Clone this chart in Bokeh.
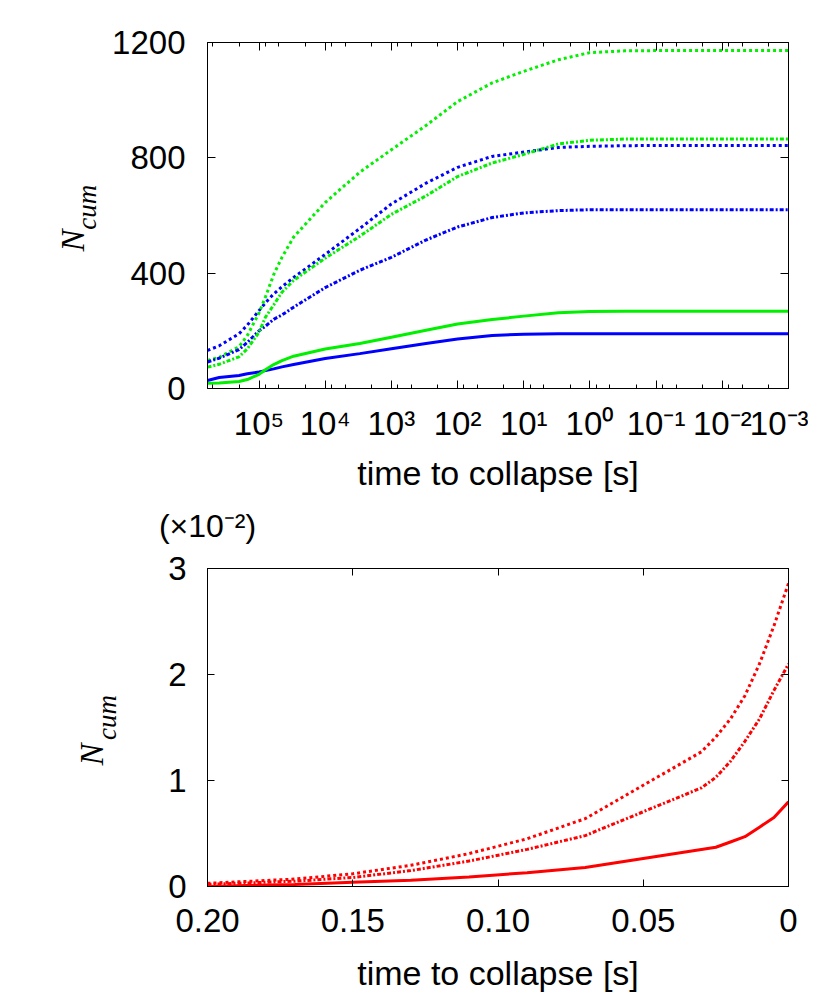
from bokeh.plotting import figure
from bokeh.models import Range1d, FixedTicker, LogAxis, LinearAxis, Label
from bokeh.layouts import column, row
from bokeh.embed import file_html
from bokeh.resources import INLINE

# ---------------- data: upper panel (time to collapse [s], N_cum) ----------------
t_top = [6e5, 4e5, 2e5, 1.5e5, 1e5, 8e4, 6e4, 4.5e4, 3e4, 1e4, 3e3, 1e3, 3e2, 1e2,
         3e1, 1e1, 3, 1, 0.3, 0.1, 1e-2, 1e-3]
blue_solid = [28, 38, 45, 51, 57, 62, 68, 75, 83, 104, 121, 138, 156, 172,
              184, 188, 190, 190, 190, 190, 190, 190]
green_solid = [18, 19, 24, 31, 49, 65, 83, 97, 112, 137, 156, 178, 202, 224,
               239, 251, 263, 267, 268, 268, 268, 268]
blue_dotted = [132, 148, 190, 220, 270, 297, 328, 353, 385, 465, 555, 640, 712, 767,
               805, 820, 836, 840, 842, 843, 843, 843]
green_dotted = [97, 108, 145, 184, 262, 317, 395, 455, 525, 645, 750, 828, 912, 995,
                1060, 1100, 1140, 1165, 1171, 1172, 1172, 1172]
blue_dashdot = [92, 105, 135, 160, 200, 216, 240, 255, 282, 350, 410, 455, 515, 560,
                593, 609, 617, 620, 620, 620, 620, 620]
green_dashdot = [74, 84, 110, 138, 195, 247, 290, 334, 375, 452, 528, 604, 668, 735,
                 782, 812, 848, 861, 865, 865, 865, 865]

top_xticks = [1e5, 1e4, 1e3, 1e2, 1e1, 1e0, 1e-1, 1e-2, 1e-3]
top_xlabels = ["10\u2075", "10\u2074", "10\u00b3", "10\u00b2", "10\u00b9", "10\u2070",
               "10\u207b\u00b9", "10\u207b\u00b2", "10\u207b\u00b3"]
top_minor = [5e5, 2e5, 8e4, 5e4, 2e4, 8e3, 5e3, 2e3, 8e2, 5e2, 2e2, 80, 50, 20, 8, 5, 2,
             0.8, 0.5, 0.2, 0.08, 0.05, 0.02, 0.008, 0.005, 0.002]
top_yticks = [0, 400, 800, 1200]

# ---------------- data: lower panel (N_cum in units of 1e-2) ----------------
t_bot = [0.20, 0.17, 0.15, 0.13, 0.11, 0.09, 0.07, 0.03, 0.025, 0.02, 0.015, 0.01, 0.005, 0.0]
red_solid = [0.0, 0.02, 0.04, 0.06, 0.09, 0.13, 0.18, 0.35, 0.37, 0.42, 0.47, 0.56, 0.65, 0.80]
red_dotted = [0.03, 0.07, 0.12, 0.20, 0.31, 0.45, 0.64, 1.27, 1.41, 1.58, 1.80, 2.10, 2.46, 2.86]
red_dashdot = [0.02, 0.05, 0.085, 0.15, 0.24, 0.35, 0.48, 0.93, 1.03, 1.18, 1.37, 1.58, 1.85, 2.10]

bot_xticks = [0.20, 0.15, 0.10, 0.05, 0.0]
bot_xlabels = ["0.20", "0.15", "0.10", "0.05", "0"]
bot_yticks = [0, 1, 2, 3]

BLUE = "#0000ff"
GREEN = "#00f000"
RED = "#ff0000"
SANS = "Liberation Sans"
SERIF = "Liberation Serif"
DOT = "3 3"
DASHDOT = "4 2 2 2"
HALF_PI = 1.5707963


def style_axis(ax, tick_len=8, show_labels=True, standoff=17):
    ax.major_tick_in = tick_len
    ax.major_tick_out = 0
    ax.minor_tick_in = 4
    ax.minor_tick_out = 0
    ax.axis_line_color = "black"
    ax.axis_line_width = 1
    ax.major_tick_line_color = "black"
    ax.minor_tick_line_color = "black"
    ax.major_label_text_font = SANS
    ax.major_label_text_color = "black"
    ax.major_label_standoff = standoff
    ax.axis_label_text_font = SANS
    ax.axis_label_text_font_size = "34px"
    ax.axis_label_text_font_style = "normal"
    ax.axis_label_text_color = "black"
    if show_labels:
        ax.major_label_text_font_size = "33px"
    else:
        ax.major_label_text_font_size = "1px"
        ax.major_label_text_color = None
        ax.major_label_standoff = 0


def base_fig(width, height, xr, yr, xtype, left, top, bottom):
    p = figure(width=width, height=height, x_range=xr, y_range=yr,
               x_axis_type=xtype, output_backend="svg", toolbar_location=None,
               min_border_left=left, min_border_right=20,
               min_border_top=top, min_border_bottom=bottom)
    p.grid.visible = False
    p.outline_line_color = "black"
    p.outline_line_width = 1
    p.background_fill_color = "white"
    p.border_fill_color = "white"
    return p


def text_fig(width, height):
    # blank canvas whose frame fills the whole area, used to carry free-standing texts
    f = figure(width=width, height=height, x_range=Range1d(0, width),
               y_range=Range1d(0, height), output_backend="svg", toolbar_location=None,
               x_axis_location=None, y_axis_location=None,
               min_border_left=0, min_border_right=0, min_border_top=0, min_border_bottom=0)
    f.grid.visible = False
    f.outline_line_color = None
    f.background_fill_color = "white"
    f.border_fill_color = "white"
    return f


def ylabel(f, x_n, y_n, x_sub, y_sub):
    f.add_layout(Label(x=x_n, y=y_n, text="N", angle=HALF_PI,
                       text_font=SERIF, text_font_style="italic",
                       text_font_size="33px", text_color="black",
                       text_align="center", text_baseline="middle"))
    f.add_layout(Label(x=x_sub, y=y_sub, text="cum", angle=HALF_PI,
                       text_font=SERIF, text_font_style="italic",
                       text_font_size="27px", text_color="black",
                       text_align="center", text_baseline="middle"))


# ================= upper panel =================
p1 = base_fig(708, 500, Range1d(6e5, 1e-3), Range1d(0, 1200), "log", 107, 42, 112)

xt1 = FixedTicker(ticks=top_xticks, minor_ticks=top_minor)
yt1 = FixedTicker(ticks=top_yticks, minor_ticks=[])

bx = p1.below[0]
bx.ticker = xt1
bx.major_label_overrides = dict(zip(top_xticks, top_xlabels))
style_axis(bx, standoff=16)
bx.axis_label = "time to collapse [s]"
bx.axis_label_standoff = 9

ly = p1.left[0]
ly.ticker = yt1
style_axis(ly, standoff=22)

ax_top = LogAxis(ticker=xt1)
style_axis(ax_top, show_labels=False)
p1.add_layout(ax_top, "above")
ax_right = LinearAxis(ticker=yt1)
style_axis(ax_right, show_labels=False)
p1.add_layout(ax_right, "right")

p1.line(t_top, blue_solid, line_color=BLUE, line_width=3)
p1.line(t_top, green_solid, line_color=GREEN, line_width=3)
p1.line(t_top, blue_dotted, line_color=BLUE, line_width=3, line_dash=DOT)
p1.line(t_top, green_dotted, line_color=GREEN, line_width=3, line_dash=DOT)
p1.line(t_top, blue_dashdot, line_color=BLUE, line_width=3, line_dash=DASHDOT)
p1.line(t_top, green_dashdot, line_color=GREEN, line_width=3, line_dash=DASHDOT)

lab1 = text_fig(100, 500)
ylabel(lab1, 72, 214, 86, 262)

# ================= strip with the scale factor =================
strip = text_fig(808, 50)
strip.add_layout(Label(x=207, y=25, text="(\u00d710\u207b\u00b2)", text_font=SANS,
                       text_font_size="32px", text_color="black",
                       text_align="center", text_baseline="middle"))

# ================= lower panel =================
p2 = base_fig(678, 446, Range1d(0.2, 0.0), Range1d(0, 3), "linear", 77, 18, 110)

xt2 = FixedTicker(ticks=bot_xticks, minor_ticks=[])
yt2 = FixedTicker(ticks=bot_yticks, minor_ticks=[])

bx2 = p2.below[0]
bx2.ticker = xt2
bx2.major_label_overrides = dict(zip(bot_xticks, bot_xlabels))
style_axis(bx2, tick_len=7, standoff=22)
bx2.axis_label = "time to collapse [s]"
bx2.axis_label_standoff = 19

ly2 = p2.left[0]
ly2.ticker = yt2
style_axis(ly2, tick_len=7, standoff=21)

ax_top2 = LinearAxis(ticker=xt2)
style_axis(ax_top2, tick_len=7, show_labels=False)
p2.add_layout(ax_top2, "above")
ax_right2 = LinearAxis(ticker=yt2)
style_axis(ax_right2, tick_len=7, show_labels=False)
p2.add_layout(ax_right2, "right")

p2.line(t_bot, red_solid, line_color=RED, line_width=3)
p2.line(t_bot, red_dotted, line_color=RED, line_width=3, line_dash=DOT)
p2.line(t_bot, red_dashdot, line_color=RED, line_width=3, line_dash=DASHDOT)

lab2 = text_fig(130, 446)
ylabel(lab2, 91, 185, 106, 237)

layout = column(row(lab1, p1, spacing=0), strip, row(lab2, p2, spacing=0), spacing=0)
open("out.html", "w").write(file_html(layout, INLINE))
